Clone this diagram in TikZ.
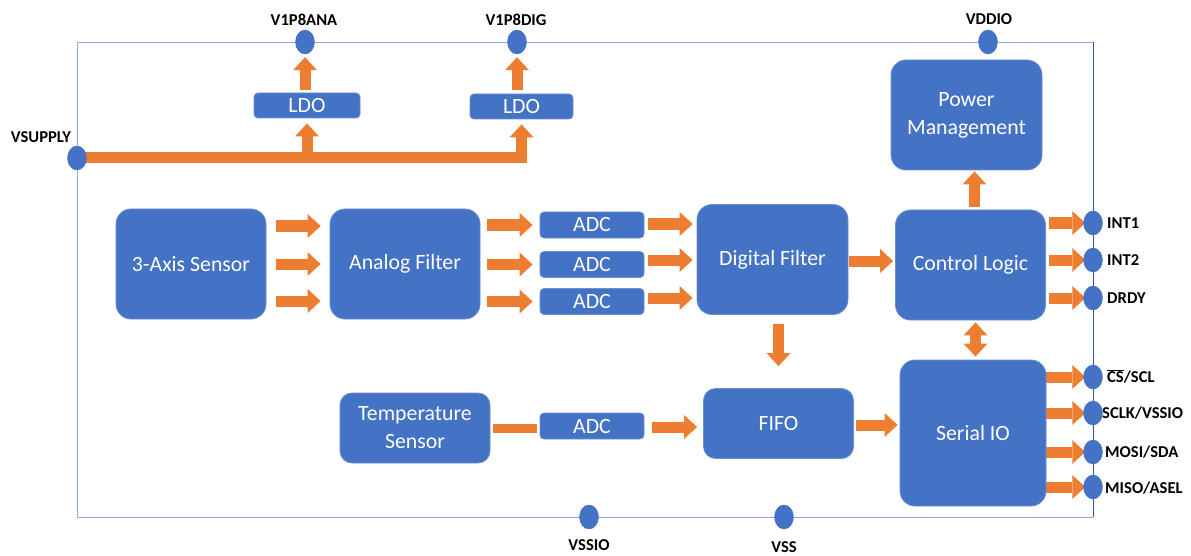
\documentclass[tikz,border=0pt]{standalone}
\usepackage{fontspec}
\setmainfont{Carlito}
\usetikzlibrary{arrows.meta,shapes.geometric,backgrounds}

\definecolor{blk}{HTML}{4472C4}
\definecolor{blkedge}{HTML}{6A8FD3}
\definecolor{flow}{HTML}{ED7D31}
\definecolor{framelt}{HTML}{8FAADC}
\definecolor{framedk}{HTML}{2F5597}

\tikzset{
  box/.style={draw=blkedge, line width=0.8pt, fill=blk, text=white, inner sep=0pt,
    rounded corners=15pt, font=\fontsize{21.8}{28}\selectfont, align=center},
  smallbox/.style={box, rounded corners=4pt, minimum width=104pt, minimum height=26pt},
  pad/.style={ellipse, fill=blk, draw=blk, inner sep=0pt, minimum width=19pt, minimum height=24pt},
  lbl/.style={font=\fontsize{16.6}{18}\bfseries\selectfont, inner sep=0pt},
  barrow/.style={draw=flow, line width=11pt,
    -{Triangle[width=24pt,length=13pt,line width=0pt]}},
  dbarrow/.style={draw=flow, line width=11pt,
    {Triangle[width=24pt,length=13pt,line width=0pt]}-{Triangle[width=24pt,length=13pt,line width=0pt]}},
  bar/.style={draw=flow, line width=9pt},
}

\begin{document}
\begin{tikzpicture}[x=1pt,y=-1pt]
\useasboundingbox (0,0) rectangle (1191,556);

% chip outline
\draw[framelt, line width=0.9pt] (1093,42) -- (77,42) -- (77,517) -- (1093,517);
\draw[framedk, line width=0.8pt] (1093,42) -- (1093,517);

% functional blocks
\node[box, minimum width=150pt, minimum height=110pt] (sens) at (191,264) {3-Axis Sensor};
\node[box, minimum width=150pt, minimum height=110pt] (af) at (405,264) {Analog Filter};
\node[smallbox] (adc1) at (592,225) {ADC};
\node[smallbox] (adc2) at (592,264.5) {ADC};
\node[smallbox] (adc3) at (592,301.5) {ADC};
\node[box, minimum width=151pt, minimum height=110pt] (df) at (772.5,259.5) {Digital Filter};
\node[box, minimum width=150pt, minimum height=110pt] (cl) at (970.5,265) {Control Logic};
\node[box, minimum width=151pt, minimum height=110pt] (pm) at (966.5,115) {Power\\Management};
\node[box, minimum width=146pt, minimum height=146pt] (sio) at (973,433) {Serial IO};
\node[box, rounded corners=12pt, minimum width=150pt, minimum height=70pt] (fifo) at (778.5,423.5) {FIFO};
\node[box, rounded corners=12pt, minimum width=150pt, minimum height=70pt] (temp) at (415,428) {Temperature\\Sensor};
\node[smallbox] (tadc) at (592,426) {ADC};
\node[smallbox, minimum width=106pt, minimum height=25pt] (ldo1) at (307,105.5) {LDO};
\node[smallbox, minimum width=103pt, minimum height=25pt] (ldo2) at (521.5,106.5) {LDO};

% pins on the outline
\node[pad] (vsup) at (77,158) {};
\node[pad] (ana) at (305,42) {};
\node[pad] (dig) at (517,42) {};
\node[pad] (vddio) at (988,42) {};
\node[pad] (int1) at (1093,223) {};
\node[pad] (int2) at (1093,260) {};
\node[pad] (drdy) at (1093,298) {};
\node[pad] (cs) at (1093,377) {};
\node[pad] (sclk) at (1093,413) {};
\node[pad] (mosi) at (1093,452) {};
\node[pad] (miso) at (1093,487) {};
\node[pad] (vssio) at (589,517) {};
\node[pad] (vss) at (784,517) {};

% pin names
\node[lbl] (tvsup) at (41,137) {VSUPPLY};
\node[lbl] (tana) at (304,20) {V1P8ANA};
\node[lbl] (tdig) at (516,20) {V1P8DIG};
\node[lbl] (tvddio) at (989,19) {VDDIO};
\node[lbl, anchor=west] (tint1) at (1107,223) {INT1};
\node[lbl, anchor=west] (tint2) at (1107,260) {INT2};
\node[lbl, anchor=west] (tdrdy) at (1107,298) {DRDY};
\node[lbl, anchor=west] (tcs) at (1107,376) {$\overline{\mbox{CS}}$/SCL};
\node[lbl, anchor=west] (tsclk) at (1102,413) {SCLK/VSSIO};
\node[lbl, anchor=west] (tmosi) at (1105,452) {MOSI/SDA};
\node[lbl, anchor=west] (tmiso) at (1105,488) {MISO/ASEL};
\node[lbl] (tvssio) at (589,545) {VSSIO};
\node[lbl] (tvss) at (784,547) {VSS};

% signal and supply flow
\begin{scope}[on background layer]
  % supply rail and regulators
  \draw[barrow, shorten >=5pt] (vsup.center) -| (ldo2.south);
  \draw[barrow, shorten >=5pt] (ldo1.south |- vsup) -- (ldo1.south);
  \draw[barrow, shorten <=3pt, shorten >=3pt] (ana.south |- ldo1.north) -- (ana.south);
  \draw[barrow, shorten <=4pt, shorten >=3pt] (dig.south |- ldo2.north) -- (dig.south);

  % sensor path
  \foreach \y in {226,264,301}
    \draw[barrow, shorten <=10pt, shorten >=9pt] (sens.east |- 0,\y) -- (af.west |- 0,\y);
  \foreach \a in {adc1,adc2,adc3}
    \draw[barrow, shorten <=7pt, shorten >=7pt] (af.east |- \a) -- (\a);
  \draw[barrow, shorten <=4pt, shorten >=4pt] (adc1.east |- 0,224) -- (df.west |- 0,224);
  \draw[barrow, shorten <=4pt, shorten >=4pt] (adc2.east |- 0,260) -- (df.west |- 0,260);
  \draw[barrow, shorten <=4pt, shorten >=4pt] (adc3.east |- 0,298) -- (df.west |- 0,298);
  \draw[barrow, shorten <=1pt, shorten >=2pt] (df.east |- 0,261) -- (cl.west |- 0,261);
  \draw[barrow, shorten <=9pt, shorten >=22pt] (fifo.north |- df.south) -- (fifo.north);

  % control and interface
  \draw[barrow, shorten <=3pt, shorten >=1pt] ([xshift=4pt]cl.north) -- ([xshift=4pt]cl.north |- pm.south);
  \draw[dbarrow, shorten <=2pt, shorten >=3pt] ([xshift=5pt]cl.south) -- ([xshift=5pt]cl.south |- sio.north);
  \foreach \p in {int1,int2,drdy}
    \draw[barrow, shorten <=3pt, shorten >=-2pt] (cl.east |- \p) -- (\p);
  \foreach \p in {cs,sclk,mosi,miso}
    \draw[barrow, shorten >=-2pt] (sio.east |- \p) -- (\p);

  % temperature path
  \draw[bar, shorten <=3pt, shorten >=3pt] (temp.east |- 0,428) -- (tadc.west |- 0,428);
  \draw[barrow, shorten <=8pt, shorten >=6pt] (tadc.east |- 0,427) -- (fifo.west |- 0,427);
  \draw[barrow, shorten <=2pt, shorten >=2pt] (fifo.east |- 0,425) -- (sio.west |- 0,425);
\end{scope}
\end{tikzpicture}
\end{document}
